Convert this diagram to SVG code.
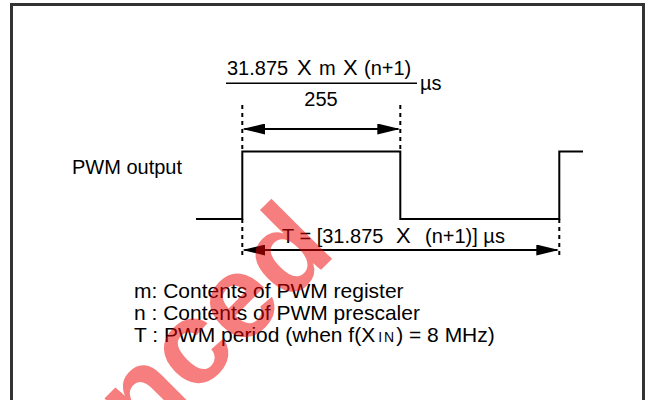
<svg xmlns="http://www.w3.org/2000/svg" width="647" height="400" viewBox="0 0 647 400">
<style>
text { font-family: "Liberation Sans", Arial, sans-serif; font-size: 20px; fill: #000; }
.legend text { font-size: 21px; }
.wave { fill: none; stroke: #000; stroke-width: 2; }
.dash { fill: none; stroke: #000; stroke-width: 2; stroke-dasharray: 4 4; }
.dim { fill: none; stroke: #000; stroke-width: 2; marker-start: url(#ah); marker-end: url(#ah); }
.frac { stroke: #000; stroke-width: 1.6; }
.wm { font-family: "Liberation Sans", Arial, sans-serif; font-weight: bold; font-size: 118px; fill: #f00000; opacity: 0.5; }
</style>
<defs>
<marker id="ah" markerUnits="userSpaceOnUse" markerWidth="23" markerHeight="11" refX="21" refY="5.5" orient="auto-start-reverse" viewBox="0 0 23 11">
<path d="M0,0 L23,5.5 L0,11 Z" fill="#000"/>
</marker>
</defs>
<rect x="0" y="0" width="647" height="400" fill="#fff"/>
<rect id="frame" x="11.5" y="4.5" width="632" height="410" fill="none" stroke="#333" stroke-width="3"/>
<g id="pwm-output-label">
<text x="72" y="174">PWM output</text>
</g>
<g id="waveform">
<path class="wave" d="M196,219 H242.3 V151.5 H400.3 V219 H559.3 V151.5 H583"/>
</g>
<g id="high-time-formula">
<text y="75"><tspan x="227">31.875</tspan><tspan x="297" font-size="22">X</tspan><tspan x="319">m</tspan><tspan x="343" font-size="22">X</tspan><tspan x="364">(n+1)</tspan></text>
<line class="frac" x1="226" y1="83.3" x2="417" y2="83.3"/>
<text x="321" y="106" text-anchor="middle">255</text>
<text x="420" y="90">µs</text>
</g>
<g id="period-formula">
<text y="243.3"><tspan x="282">T = [31.875</tspan><tspan x="396" font-size="22">X</tspan><tspan x="425">(n+1)] µs</tspan></text>
</g>
<g id="connectors">
<line class="dash" x1="242.3" y1="105" x2="242.3" y2="151"/>
<line class="dash" x1="400.3" y1="105" x2="400.3" y2="151"/>
<line class="dash" x1="242.3" y1="219" x2="242.3" y2="257"/>
<line class="dash" x1="559.3" y1="219" x2="559.3" y2="257"/>
<line class="dim" x1="244.3" y1="129" x2="398.3" y2="129"/>
<line class="dim" x1="244.3" y1="250" x2="557.3" y2="250"/>
</g>
<g id="legend" class="legend">
<text x="134" y="297.5">m: Contents of PWM register</text>
<text x="134" y="319.5">n : Contents of PWM prescaler</text>
<text x="134" y="341.5">T : PWM period (when f(X<tspan dx="3" font-size="14" letter-spacing="2">IN</tspan><tspan>) = 8 MHz)</tspan></text>
</g>
<g id="watermark">
<text class="wm" transform="translate(143,448) rotate(-45)">nced</text>
</g>
</svg>
